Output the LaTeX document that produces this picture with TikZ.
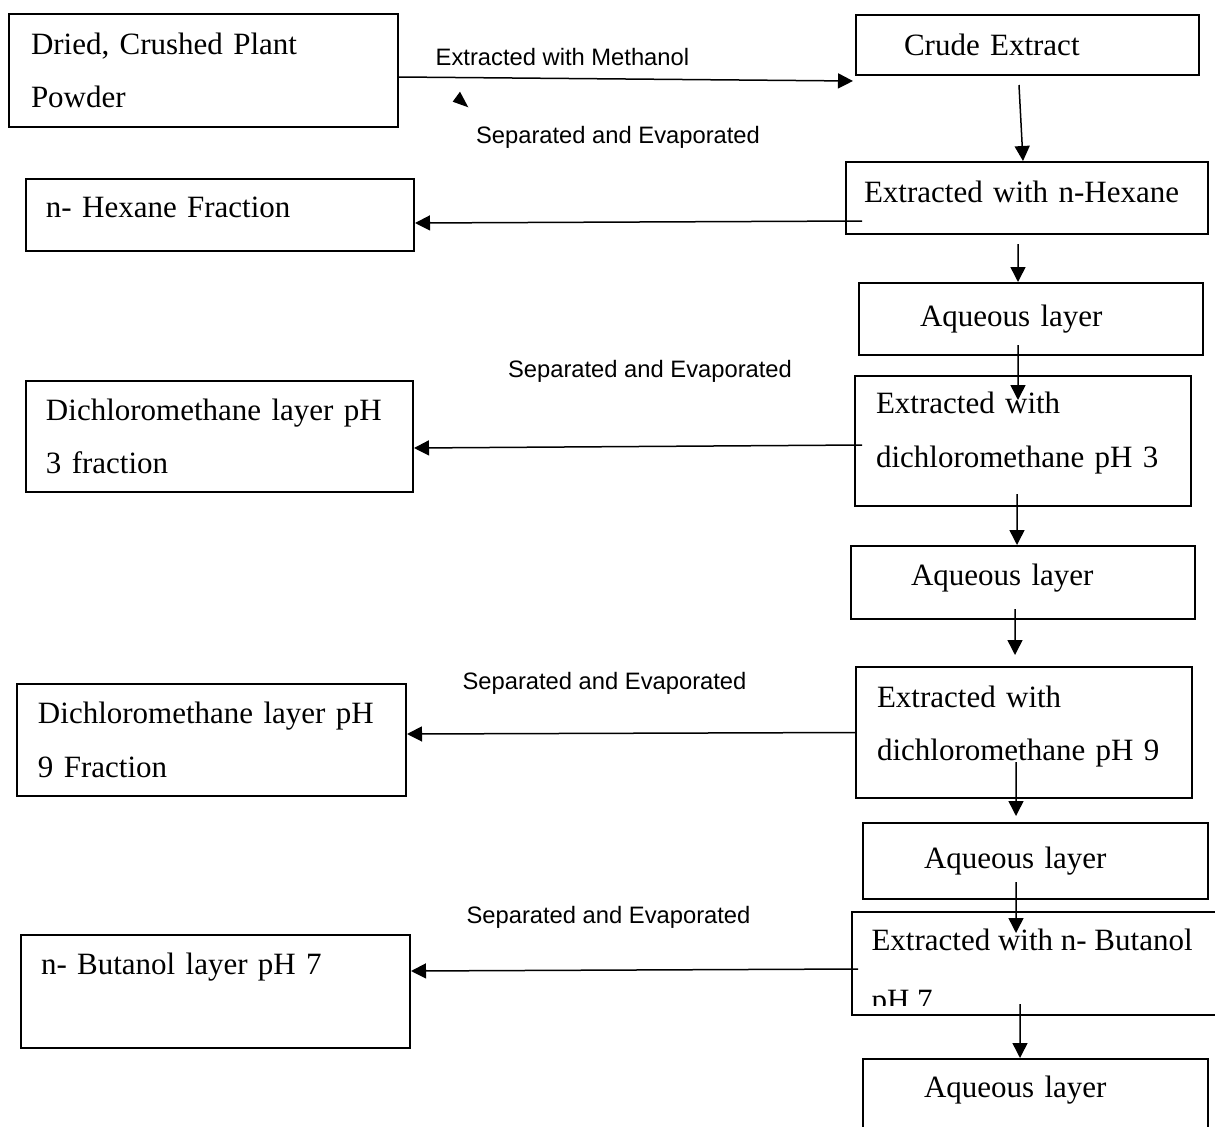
\documentclass[tikz,border=0pt]{standalone}
\usepackage{fontspec}
\setmainfont{Liberation Serif}
\newfontfamily\notesans{Liberation Sans}
\usetikzlibrary{arrows.meta, calc}
\newcommand{\flowfont}{\fontsize{12.4pt}{21.4pt}\selectfont}
\newcommand{\notefont}{\notesans\fontsize{9.5pt}{11pt}\selectfont}
\tikzstyle{component} = [rectangle, draw, line width=0.8pt, anchor=north west,
    align=left, inner ysep=0pt, font=\flowfont]
\tikzstyle{line} = [draw, line width=0.6pt, -{Triangle[length=6pt, width=6pt]}]
\tikzstyle{note} = [font=\notefont, inner sep=0pt]

\begin{document}
\begin{tikzpicture}[x=0.4pt, y=-0.4pt]
    \useasboundingbox (0,0) rectangle (1215,1127);
    \clip (0,0) rectangle (1215,1127);
    % Nodes
    \node [component, text width=138pt, inner xsep=8.8pt, minimum height=45.2pt] (plant) at (8,13) {Dried, Crushed Plant\\Powder};
    \node [component, text width=98.8pt, inner xsep=19.2pt, minimum height=24pt] (crude) at (855,14) {Crude Extract};
    \node [component, text width=130.4pt, inner xsep=7.2pt, minimum height=28.8pt, text depth=4.7pt] (hexane) at (845,161) {Extracted with n-Hexane};
    \node [component, text width=139.2pt, inner xsep=8pt, minimum height=28.8pt, text depth=6pt] (hexfrac) at (25,178) {n- Hexane Fraction};
    \node [component, text width=88.8pt, inner xsep=24.4pt, minimum height=28.8pt] (aqone) at (858,282) {Aqueous layer};
    \node [component, text width=138.8pt, inner xsep=8pt, minimum height=44.4pt] (dcmthree) at (25,380) {Dichloromethane layer pH\\3 fraction};
    \node [component, text width=117.6pt, inner xsep=8.4pt, minimum height=52pt, text depth=30.4pt] (extthree) at (854,375) {Extracted with\\dichloromethane pH 3};
    \node [component, text width=89.6pt, inner xsep=24pt, minimum height=29.2pt, text depth=5.9pt] (aqtwo) at (850,545) {Aqueous layer};
    \node [component, text width=117.6pt, inner xsep=8.4pt, minimum height=52.4pt, text depth=29pt] (extnine) at (855,666) {Extracted with\\dichloromethane pH 9};
    \node [component, text width=138.8pt, inner xsep=8.4pt, minimum height=44.8pt] (dcmnine) at (16,683) {Dichloromethane layer pH\\9 Fraction};
    \node [component, text width=89.2pt, inner xsep=24.4pt, minimum height=30.4pt] (aqthree) at (862,822) {Aqueous layer};
    \node [component, text width=133.6pt, inner xsep=8pt, minimum height=41.2pt] (extbut) at (851,911) {};
    \begin{scope}
        \clip (extbut.north west) rectangle ([shift={(0,-11)}]extbut.south east);
        \node [font=\flowfont, align=left, inner sep=0pt, anchor=north west] (extbuttext) at ([shift={(20,17.3)}]extbut.north west) {Extracted with n- Butanol\\[2.6pt]pH 7};
    \end{scope}
    \node [component, text width=139.6pt, inner xsep=8pt, minimum height=45.2pt, text depth=21.9pt] (butfrac) at (20,934) {n- Butanol layer pH 7};
    \node [component, text width=89.2pt, inner xsep=24.4pt, minimum height=32pt, text depth=9.5pt] (aqfour) at (862,1058) {Aqueous layer};
    % Labels
    \node [note] (sepone) at (618,137) {Separated and Evaporated};
    \node [note] (septwo) at (650,371) {Separated and Evaporated};
    \node [note] (septhree) at (604.5,683) {Separated and Evaporated};
    \node [note] (sepfour) at (608.5,917) {Separated and Evaporated};
    \fill (452.7,101.7) -- (460,91.7) -- (468.3,107.3) -- cycle;
    % Edges
    \path[line] ([shift={(0,6.5)}]plant.east) -- node[note, pos=0.36, above=4.6pt] {Extracted with Methanol} ([shift={(-2,5)}]crude.south west);
    \path[line] ([shift={(-8.5,9)}]crude.south) -- ([shift={(-4,0)}]hexane.north);
    \path[line] ([shift={(17,23)}]hexane.west) -- ([shift={(0,8)}]hexfrac.east);
    \path[line] ([shift={(-9,9)}]hexane.south) -- ([shift={(-13,0)}]aqone.north);
    \path[line] ([shift={(-13,-11)}]aqone.south) -- ([shift={(-5,25)}]extthree.north);
    \path[line] ([shift={(8,4)}]extthree.west) -- ([shift={(0,11.5)}]dcmthree.east);
    \path[line] ([shift={(-6,-13)}]extthree.south) -- ([shift={(-6,0)}]aqtwo.north);
    \path[line] ([shift={(-8,-11)}]aqtwo.south) -- ([shift={(-9,-11)}]extnine.north);
    \path[line] (extnine.west) -- ([shift={(0,-6)}]dcmnine.east);
    \path[line] ([shift={(-8,-37)}]extnine.south) -- ([shift={(-19.5,-6)}]aqthree.north);
    \path[line] ([shift={(-19.5,-18)}]aqthree.south) -- ([shift={(-23,22)}]extbut.north);
    \path[line] ([shift={(7,5.5)}]extbut.west) -- ([shift={(0,-20.5)}]butfrac.east);
    \path[line] ([shift={(-19,-12)}]extbut.south) -- ([shift={(-15.5,0)}]aqfour.north);
\end{tikzpicture}
\end{document}
